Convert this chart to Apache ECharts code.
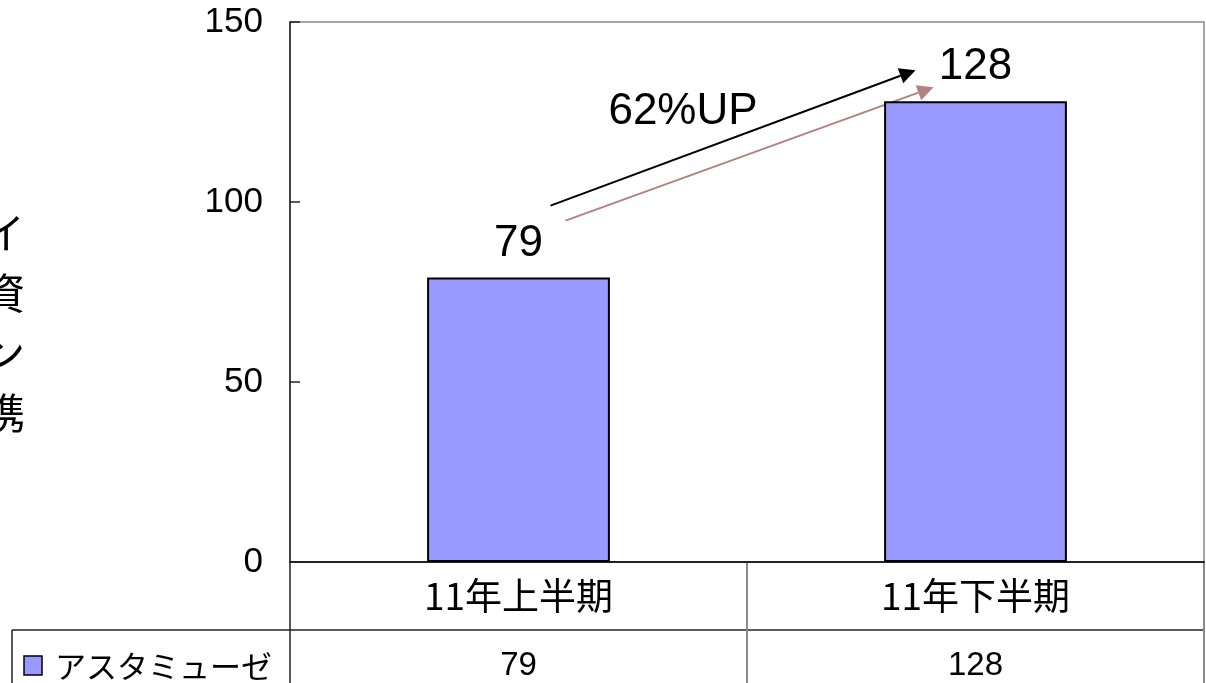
<!DOCTYPE html>
<html>
<head>
<meta charset="utf-8">
<script src="https://cdn.jsdelivr.net/npm/echarts@6/dist/echarts.min.js"></script>
<style>
  html, body { margin: 0; padding: 0; background: #fff; }
  #chart { width: 1206px; height: 683px; }
</style>
</head>
<body>
<div id="chart"></div>
<script>
// Half-year counts
const categories = ['11年上半期', '11年下半期'];
const seriesName = 'アスタミューゼ';
const values = [79, 128];
const yTicks = [0, 50, 100, 150];
const sideTitle = ['イ', '資', 'ン', '携'];
const growthLabel = '62%UP';

const NUM_FONT = "'Liberation Sans', Arial, sans-serif";
const JP_FONT = "'Noto Sans CJK JP', sans-serif";
const BAR_COLOR = '#9999ff';

const GRID = { left: 290, right: 2, top: 22, bottom: 121 };
const W = 1206, H = 683;

const chart = echarts.init(document.getElementById('chart'), null, { renderer: 'canvas' });

chart.setOption({
  animation: false,
  backgroundColor: '#ffffff',
  grid: {
    left: GRID.left, right: GRID.right, top: GRID.top, bottom: GRID.bottom,
    show: true, borderColor: '#8a8a8a', borderWidth: 1.5, backgroundColor: 'transparent'
  },
  xAxis: {
    type: 'category',
    data: categories,
    axisLine: { show: true, lineStyle: { color: '#222', width: 2 } },
    axisTick: { show: false },
    axisLabel: {
      color: '#000', fontFamily: JP_FONT, fontSize: 37,
      margin: 34, verticalAlign: 'middle'
    },
    splitLine: { show: false }
  },
  yAxis: {
    type: 'value',
    min: yTicks[0], max: yTicks[yTicks.length - 1], interval: yTicks[1] - yTicks[0],
    axisLine: { show: true, lineStyle: { color: '#222', width: 1.5 } },
    axisTick: { show: true, inside: true, length: 10, lineStyle: { color: '#222', width: 1.5 } },
    axisLabel: { color: '#000', fontFamily: NUM_FONT, fontSize: 35, margin: 27 },
    splitLine: { show: false }
  },
  series: [{
    name: seriesName,
    type: 'bar',
    data: values,
    barWidth: '40%',
    itemStyle: { color: BAR_COLOR, borderColor: '#000', borderWidth: 2 },
    label: {
      show: true, position: 'top', distance: 12,
      color: '#000', fontFamily: NUM_FONT, fontSize: 44
    }
  }]
});

// Data table under the plot, growth arrows and the side title
function drawExtras() {
  const p0 = chart.convertToPixel({ seriesIndex: 0 }, [0, values[0]]);
  const p1 = chart.convertToPixel({ seriesIndex: 0 }, [1, values[1]]);
  const base = chart.convertToPixel({ yAxisIndex: 0 }, 0);
  const xL = GRID.left, xR = W - GRID.right;
  const xMid = (xL + xR) / 2;
  const rowY = base + 68;
  const tableLeft = 12;

  const els = [];
  const dark = { stroke: '#222', lineWidth: 1.5 };
  const grey = { stroke: '#8a8a8a', lineWidth: 2 };
  // horizontal rule between the category row and the series row
  els.push({ type: 'line', shape: { x1: tableLeft, y1: rowY, x2: xR, y2: rowY }, style: dark });
  // verticals
  els.push({ type: 'line', shape: { x1: xL, y1: base, x2: xL, y2: H }, style: dark });
  els.push({ type: 'line', shape: { x1: xMid, y1: base, x2: xMid, y2: H }, style: grey });
  els.push({ type: 'line', shape: { x1: xR, y1: base, x2: xR, y2: H }, style: grey });
  els.push({ type: 'line', shape: { x1: tableLeft, y1: rowY, x2: tableLeft, y2: H }, style: dark });

  // legend key and series name
  const rowMidY = rowY + 36;
  els.push({ type: 'rect', shape: { x: 24, y: rowMidY - 10, width: 18, height: 19 },
             style: { fill: BAR_COLOR, stroke: '#000', lineWidth: 1.5 } });
  els.push({ type: 'text', style: { x: 55, y: rowMidY, text: seriesName, fill: '#000',
             font: '31px ' + JP_FONT, textVerticalAlign: 'middle', textAlign: 'left' } });
  // series values per category
  values.forEach((v, i) => {
    const px = chart.convertToPixel({ xAxisIndex: 0 }, i);
    els.push({ type: 'text', style: { x: px, y: rowMidY, text: String(v), fill: '#000',
               font: '33px ' + NUM_FONT, textAlign: 'center', textVerticalAlign: 'middle' } });
  });

  // arrows from the first value label to the second
  function arrow(x1, y1, x2, y2, color, width, head) {
    const a = Math.atan2(y2 - y1, x2 - x1);
    const bx = x2 - head * Math.cos(a), by = y2 - head * Math.sin(a);
    const hw = head * 0.5;
    els.push({ type: 'line', shape: { x1, y1, x2: bx, y2: by }, style: { stroke: color, lineWidth: width } });
    els.push({ type: 'polygon', shape: { points: [
      [x2, y2],
      [bx + hw * Math.sin(a), by - hw * Math.cos(a)],
      [bx - hw * Math.sin(a), by + hw * Math.cos(a)]
    ] }, style: { fill: color } });
  }
  arrow(p0[0] + 32, p0[1] - 72, p1[0] - 60, p1[1] - 31, '#000', 2, 16);
  arrow(p0[0] + 47, p0[1] - 57, p1[0] - 42, p1[1] - 14, '#b38181', 2, 16);

  els.push({ type: 'text', style: { x: (p0[0] + p1[0]) / 2 - 64, y: (p0[1] + p1[1]) / 2 - 78,
             text: growthLabel, fill: '#000', font: '44px ' + NUM_FONT,
             textAlign: 'center', textVerticalAlign: 'middle' } });

  // vertical side title, clipped by the left edge
  sideTitle.forEach((ch, i) => {
    els.push({ type: 'text', style: { x: 4, y: 233 + i * 60, text: ch, fill: '#000',
               font: '42px ' + JP_FONT, textAlign: 'center', textVerticalAlign: 'middle' } });
  });

  chart.setOption({ graphic: { elements: els } });
}
drawExtras();
</script>
</body>
</html>
